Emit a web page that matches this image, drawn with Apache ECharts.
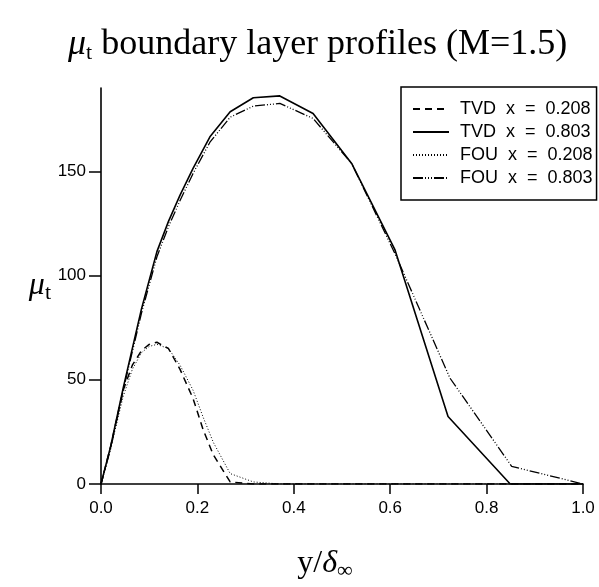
<!DOCTYPE html>
<html>
<head>
<meta charset="utf-8">
<script src="https://cdn.jsdelivr.net/npm/echarts@6/dist/echarts.min.js"></script>
<style>
html,body{margin:0;padding:0;background:#fff;}
#chart{width:599px;height:587px;}
</style>
</head>
<body>
<div id="chart"></div>
<script>
// ---- data ----
const seriesNames = ['TVD  x  =  0.208', 'TVD  x  =  0.803', 'FOU  x  =  0.208', 'FOU  x  =  0.803'];

const xTVD208 = [0, 0.02, 0.046, 0.065, 0.084, 0.1, 0.116, 0.14, 0.164, 0.191, 0.212, 0.233, 0.268, 0.316, 0.371, 0.44, 0.52, 0.61, 0.72, 0.849, 1.0];
const yTVD208 = [0, 18, 45, 57, 64, 67, 68, 65, 55, 41, 26, 14, 1, 0, 0, 0, 0, 0, 0, 0, 0];

const xTVD803 = [0, 0.02, 0.046, 0.084, 0.116, 0.14, 0.164, 0.191, 0.226, 0.268, 0.316, 0.371, 0.44, 0.52, 0.61, 0.72, 0.849, 1.0];
const yTVD803 = [0, 18, 46, 84, 111.5, 126, 138.6, 151.4, 166.6, 178.6, 185.3, 186.2, 177.8, 153.8, 112.3, 32.4, 0, 0];

const xFOU208 = [0, 0.02, 0.046, 0.065, 0.084, 0.1, 0.116, 0.14, 0.164, 0.191, 0.212, 0.233, 0.268, 0.316, 0.371, 0.44, 0.52, 0.61, 0.72, 0.849, 1.0];
const yFOU208 = [0, 17, 42, 55, 63, 66, 67, 65, 57, 45, 32, 20, 5, 1, 0, 0, 0, 0, 0, 0, 0];

const xFOU803 = [0, 0.02, 0.046, 0.084, 0.116, 0.14, 0.164, 0.191, 0.226, 0.268, 0.316, 0.371, 0.44, 0.52, 0.61, 0.724, 0.852, 1.0];
const yFOU803 = [0, 17, 45, 82, 109, 123.5, 136, 149, 164, 176, 181.3, 182.6, 175.4, 153.8, 110.5, 50.8, 8.5, 0];

const xTicks = [0, 0.2, 0.4, 0.6, 0.8, 1.0];
const yTicks = [0, 50, 100, 150];

function pairs(xs, ys) { return xs.map((x, i) => [x, ys[i]]); }

const chart = echarts.init(document.getElementById('chart'), null, {renderer: 'canvas'});
const sans = 'Liberation Sans';
const serif = 'Liberation Serif';

chart.setOption({
  backgroundColor: '#fff',
  animation: false,
  title: {
    text: '{mu|μ}{sub|t}{n| boundary layer profiles (M=1.5)}',
    left: 63,
    top: 21,
    textStyle: {
      fontWeight: 'normal',
      rich: {
        mu: {fontFamily: serif, fontStyle: 'italic', fontWeight: 'normal', fontSize: 36, lineHeight: 38, color: '#000'},
        sub: {fontFamily: serif, fontWeight: 'normal', fontSize: 22, lineHeight: 22, padding: [16, 0, 0, 0], color: '#000'},
        n: {fontFamily: serif, fontWeight: 'normal', fontSize: 36, lineHeight: 38, color: '#000'}
      }
    }
  },
  legend: {
    orient: 'vertical',
    left: 401,
    top: 87,
    data: seriesNames,
    backgroundColor: '#fff',
    borderColor: '#000',
    borderWidth: 1.5,
    borderRadius: 0,
    padding: [12, 4, 12, 11],
    itemWidth: 36,
    itemHeight: 12,
    itemGap: 3,
    itemStyle: {opacity: 0},
    textStyle: {fontFamily: sans, fontSize: 18, color: '#000', lineHeight: 20, padding: [0, 0, 0, 6]}
  },
  grid: {left: 101, right: 16, top: 88, bottom: 101},
  xAxis: {
    type: 'value',
    min: 0, max: 1, interval: 0.2,
    name: '{a|y/}{d|δ}{s|∞}',
    nameLocation: 'middle',
    nameGap: 64,
    nameTextStyle: {
      padding: [0, 34, 0, 0],
      rich: {
        a: {fontFamily: serif, fontSize: 32, lineHeight: 32, color: '#000'},
        d: {fontFamily: serif, fontSize: 32, fontStyle: 'italic', lineHeight: 32, color: '#000'},
        s: {fontFamily: serif, fontSize: 22, lineHeight: 22, padding: [14, 0, 0, 0], color: '#000'}
      }
    },
    axisLine: {show: true, onZero: false, lineStyle: {color: '#000', width: 1.6}},
    axisTick: {show: true, inside: false, length: 10, lineStyle: {color: '#000', width: 1.5}},
    axisLabel: {
      margin: 16,
      fontFamily: sans, fontSize: 17, color: '#000',
      formatter: v => v.toFixed(1)
    },
    splitLine: {show: false}
  },
  yAxis: {
    type: 'value',
    min: 0, max: 190, interval: 50,
    name: '{m|μ}{s|t}',
    nameLocation: 'middle',
    nameRotate: 0,
    nameGap: 50,
    nameTextStyle: {
      rich: {
        m: {fontFamily: serif, fontSize: 32, fontStyle: 'italic', lineHeight: 32, color: '#000'},
        s: {fontFamily: serif, fontSize: 22, lineHeight: 22, padding: [14, 0, 0, 0], color: '#000'}
      }
    },
    axisLine: {show: true, onZero: false, lineStyle: {color: '#000', width: 1.6}},
    axisTick: {show: true, inside: false, length: 12, lineStyle: {color: '#000', width: 1.5}, customValues: yTicks},
    axisLabel: {
      margin: 15,
      fontFamily: sans, fontSize: 17, color: '#000',
      customValues: yTicks
    },
    splitLine: {show: false}
  },
  series: [
    {
      name: seriesNames[0], type: 'line', data: pairs(xTVD208, yTVD208),
      showSymbol: false, symbol: 'none', smooth: false,
      lineStyle: {color: '#000', width: 1.5, type: [7, 5]},
      itemStyle: {color: '#000'}
    },
    {
      name: seriesNames[1], type: 'line', data: pairs(xTVD803, yTVD803),
      showSymbol: false, symbol: 'none', smooth: false,
      lineStyle: {color: '#000', width: 1.6, type: 'solid'},
      itemStyle: {color: '#000'}
    },
    {
      name: seriesNames[2], type: 'line', data: pairs(xFOU208, yFOU208),
      showSymbol: false, symbol: 'none', smooth: false,
      lineStyle: {color: '#000', width: 1, type: [1, 2]},
      itemStyle: {color: '#000'}
    },
    {
      name: seriesNames[3], type: 'line', data: pairs(xFOU803, yFOU803),
      showSymbol: false, symbol: 'none', smooth: false,
      lineStyle: {color: '#000', width: 1.3, type: [10, 2, 1, 2, 1, 2, 1, 2]},
      itemStyle: {color: '#000'}
    }
  ]
});
</script>
</body>
</html>
